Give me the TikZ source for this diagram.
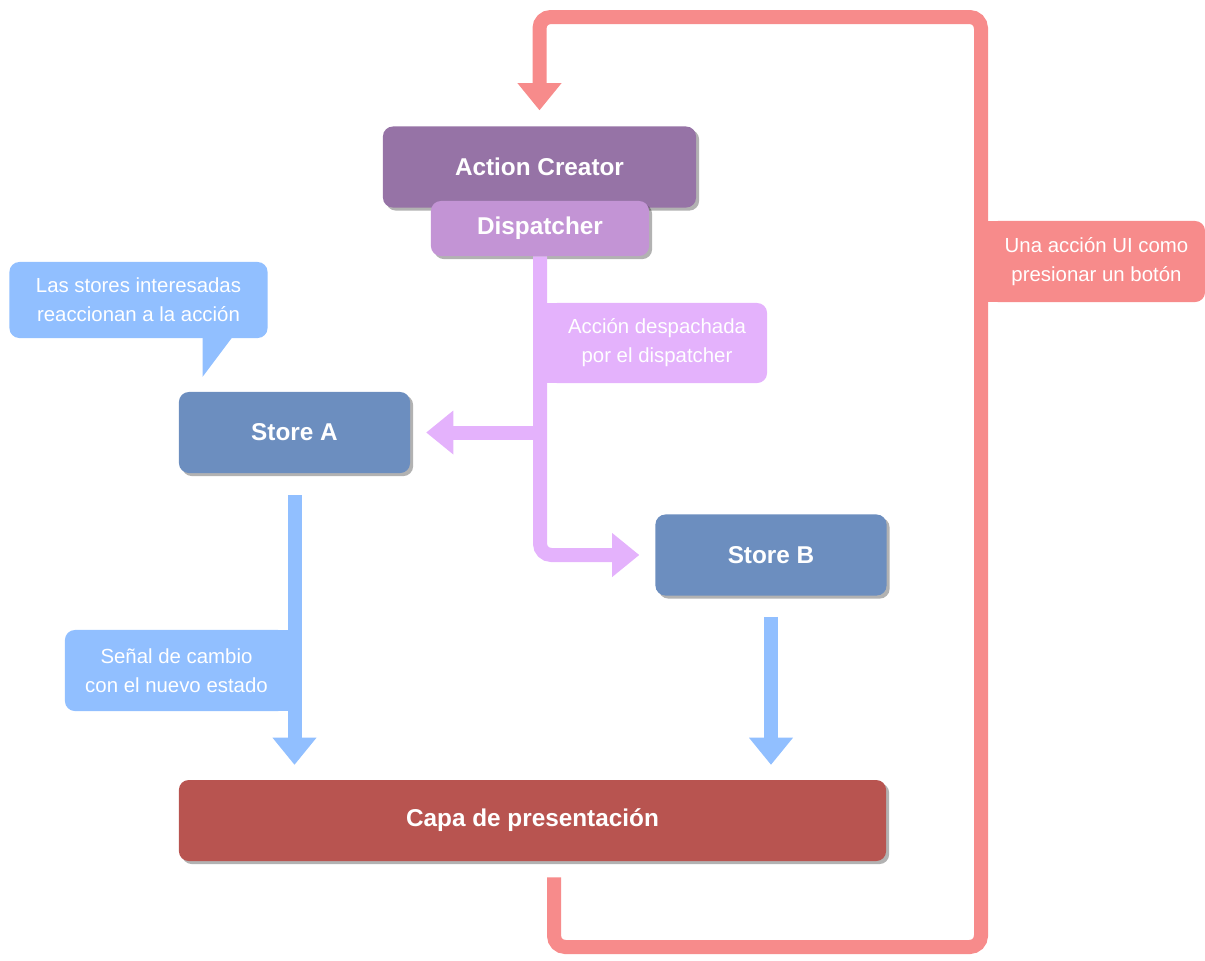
\documentclass[tikz,border=0pt]{standalone}
\usepackage{fontspec}
\setmainfont{Liberation Sans}
\usetikzlibrary{arrows.meta,shadows}
\definecolor{cpurple}{HTML}{9673A6}
\definecolor{clilac}{HTML}{C394D5}
\definecolor{cstore}{HTML}{6C8EBF}
\definecolor{cbrick}{HTML}{B85450}
\definecolor{tblue}{HTML}{91BFFF}
\definecolor{tlilac}{HTML}{E4B2FC}
\definecolor{tred}{HTML}{F78B8B}
\begin{document}
\begin{tikzpicture}[x=0.025cm, y=-0.025cm,
    box/.style={rounded corners=7pt, text=white, inner sep=0pt,
      font=\fontsize{17.3}{20}\selectfont\bfseries, minimum height=2.025cm,
      drop shadow={shadow xshift=2.2pt, shadow yshift=-2.2pt, opacity=0.3, fill=black}},
    note/.style={rounded corners=7pt, text=white, inner sep=0pt, align=center,
      font=\fontsize{14.5}{20.5}\selectfont, minimum height=2.025cm},
    flow/.style={line width=0.35cm,
      -{Triangle[length=0.675cm, width=1.1cm, line width=0pt]}}]
  \useasboundingbox (0,0) rectangle (1205,961);
  % boxes
  \node[box, fill=cpurple, minimum width=7.825cm] (ac) at (539.5,167) {Action Creator};
  \node[box, fill=clilac, minimum width=5.45cm, minimum height=1.375cm] (disp) at (540,228.5) {Dispatcher};
  \node[box, fill=cstore, minimum width=5.775cm] (sa) at (294.5,432.5) {Store A};
  \node[box, fill=cstore, minimum width=5.775cm] (sb) at (771,555) {Store B};
  \node[box, fill=cbrick, minimum width=17.675cm] (capa) at (532.5,820.5) {Capa de presentación};
  % notes
  \node[note, fill=tblue, minimum width=6.45cm, minimum height=1.9cm] (callout) at (138.5,300)
    {Las stores interesadas\\reaccionan a la acción};
  \fill[tblue] ([xshift=1.6cm, yshift=1pt]callout.south) -- ++(0,40)
    -- ([xshift=2.35cm, yshift=1pt]callout.south) -- cycle;
  \node[note, fill=tlilac, minimum width=5.5cm, minimum height=2cm] (lbldisp) at (657,343)
    {Acción despachada\\por el dispatcher};
  \fill[tlilac] (lbldisp.north west) rectangle ([xshift=0.3cm]lbldisp.south west);
  \node[note, fill=tblue, minimum width=5.575cm] (lblsignal) at (176.5,670.5)
    {Señal de cambio\\con el nuevo estado};
  \fill[tblue] (lblsignal.north east) rectangle ([xshift=-0.3cm]lblsignal.south east);
  \node[note, fill=tred, minimum width=5.425cm] (lblui) at (1096.5,261.5)
    {Una acción UI como\\presionar un botón};
  \fill[tred] (lblui.north west) rectangle ([xshift=0.3cm]lblui.south west);
  % dispatcher to the stores
  \draw[flow, tlilac, rounded corners=8pt, shorten >=0.4cm] (disp.south) |- (sb.west);
  \draw[flow, tlilac, shorten >=0.4cm] (disp.south |- sa.east) -- (sa.east);
  % stores to the view
  \draw[flow, tblue, shorten <=0.55cm, shorten >=0.375cm] (sa.south) -- (sa.south |- capa.north);
  \draw[flow, tblue, shorten <=0.525cm, shorten >=0.375cm] (sb.south) -- (sb.south |- capa.north);
  % UI action loop
  \coordinate (loopr) at (981,947);
  \coordinate (loopt) at (981,17);
  \draw[flow, tred, rounded corners=8pt, shorten <=0.4cm, shorten >=0.4cm]
    ([xshift=0.5375cm]capa.south) |- (loopr) -- (loopt) -| (ac.north);
\end{tikzpicture}
\end{document}
